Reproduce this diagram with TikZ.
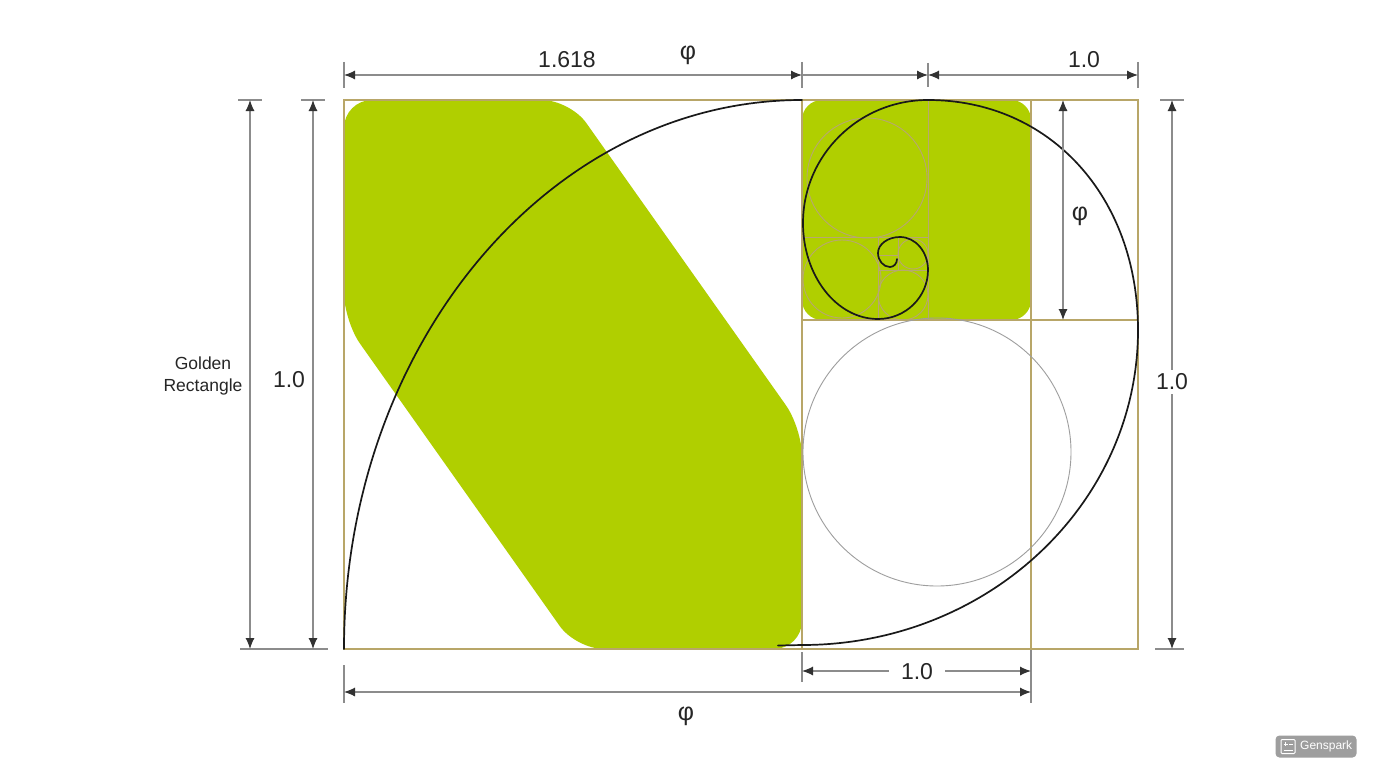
\documentclass[tikz,border=0pt]{standalone}
\usepackage{fontspec}
\setmainfont{Liberation Sans}
\usetikzlibrary{arrows.meta}
\definecolor{lime}{RGB}{176,207,0}
\definecolor{gold}{RGB}{184,166,104}
\definecolor{tan}{RGB}{183,168,112}
\definecolor{dimgray}{RGB}{140,140,140}
\definecolor{tipgray}{RGB}{50,50,50}
\tikzset{
  goldline/.style={draw=gold, line width=1.4pt},
  tanline/.style={draw=tan, line width=0.9pt},
  spiral/.style={draw=black!90, line width=1.7pt, line cap=round},
  dimline/.style={draw=dimgray, line width=1.1pt},
  tickline/.style={draw=dimgray, line width=1.1pt},
  both/.style={dimline, {Latex[length=11pt,width=9pt,color=tipgray]}-{Latex[length=11pt,width=9pt,color=tipgray]}},
  endonly/.style={dimline, -{Latex[length=11pt,width=9pt,color=tipgray]}},
  lbl/.style={font=\fontsize{23}{27}\selectfont, text=black!85, inner sep=0pt},
  philbl/.style={font=\fontsize{25}{29}\selectfont, text=black!85, inner sep=0pt},
  gaplbl/.style={lbl, fill=white, inner xsep=9pt, inner ysep=4pt}
}
\begin{document}
\begin{tikzpicture}[x=1pt,y=-1pt]
\useasboundingbox (0,0) rectangle (1376,768);
\fill[white] (0,0) rectangle (1376,768);

% key coordinates
\coordinate (TL) at (344,100);
\coordinate (TR) at (1138,100);
\coordinate (BL) at (344,649);
\coordinate (BR) at (1138,649);
\coordinate (M1T) at (802,100);
\coordinate (M1B) at (802,649);
\coordinate (M2T) at (1031,100);
\coordinate (M2B) at (1031,649);
\coordinate (H1L) at (802,320);
\coordinate (H1R) at (1138,320);

% green shapes
\fill[lime, rounded corners=28pt] (344,210) -- (344,100) -- (570,100) -- (802,428) -- (802,649) -- (576,649) -- (344,321) -- cycle;
\fill[lime, rounded corners=20pt] (802,100) rectangle (1031,320);

% structure lines
\draw[goldline] (TL) rectangle (BR);
\draw[goldline] (M1T) -- (M1B);
\draw[goldline] (M2T) -- (M2B);
\draw[goldline] (H1L) -- (H1R);

% inner subdivisions
\coordinate (V3T) at (928,100);
\coordinate (V3B) at (928,320);
\draw[tanline] (V3T) -- (V3B);
\draw[tanline] (802,237) -- (928,237);
\draw[tanline] (878,237) -- (878,320);
\draw[tanline] (878,270) -- (928,270);
\draw[tanline] (898,237) -- (898,270);
\draw[tanline] (878,255) -- (898,255);

% circles
\draw[tanline] (867,178) circle[radius=60];
\draw[tanline] (842,279) circle[radius=39];
\draw[tanline] (903,295) circle[radius=25];
\draw[tanline] (913,254) circle[radius=15];
\draw[draw=black!38, line width=0.9pt] (937,452) circle[radius=134];

% big arc
\draw[spiral] (BL) .. controls (344,345.8) and (549,100) .. (M1T);

% spiral
\draw[spiral] (778,645.5) -- (802,645)
  .. controls (987.6,645) and (1138,504) .. (1138,330)
  .. controls (1138,196.6) and (1049.8,100) .. (928,100)
  .. controls (859,100) and (803,155) .. (803,223)
  .. controls (803,276) and (836.6,319) .. (878,319)
  .. controls (905.6,319) and (928,297) .. (928,270)
  .. controls (928,251.8) and (915.5,237) .. (900,237)
  .. controls (887.8,237) and (878,244.2) .. (878,253)
  .. controls (878,260.7) and (883.4,267) .. (890,267)
  .. controls (893.9,267) and (897,263.4) .. (897,259);

% ---- top dimensions
\draw[tickline] (344,62) -- (344,88);
\draw[tickline] (802,62) -- (802,88);
\draw[tickline] (928,63) -- (928,87);
\draw[tickline] (1138,62) -- (1138,88);
\coordinate (DT1) at (344,75);
\coordinate (DT2) at (802,75);
\coordinate (DT3) at (928,75);
\coordinate (DT4) at (1138,75);
\draw[both] (DT1) -- (DT2);
\draw[endonly] (DT2) -- (DT3);
\draw[both] (DT3) -- (DT4);
\node[lbl] (l1618) at (567,60) {1.618};
\node[philbl] (phitop) at (688,55) {φ};
\node[lbl] (l10top) at (1084,60) {1.0};

% ---- left dimensions
\draw[tickline] (238,100) -- (262,100);
\draw[tickline] (301,100) -- (325,100);
\draw[tickline] (240,649) -- (328,649);
\coordinate (DL1T) at (250,100);
\coordinate (DL1B) at (250,649);
\coordinate (DL2T) at (313,100);
\coordinate (DL2B) at (313,649);
\draw[both] (DL1T) -- (DL1B);
\draw[both] (DL2T) -- (DL2B);
\node[lbl] (l10left) at (289,380) {1.0};
\node[font=\fontsize{17.5}{22}\selectfont, text=black!85, align=center, inner sep=0pt] (golden) at (203,376) {Golden\\Rectangle};

% ---- right dimensions
\coordinate (DR1T) at (1063,100);
\coordinate (DR1B) at (1063,320);
\draw[both] (DR1T) -- (DR1B);
\node[philbl] (phiright) at (1080,216) {φ};
\draw[tickline] (1160,100) -- (1184,100);
\draw[tickline] (1155,649) -- (1184,649);
\coordinate (DR2T) at (1172,100);
\coordinate (DR2B) at (1172,649);
\draw[both] (DR2T) -- (DR2B);
\node[gaplbl] (l10right) at (1172,382) {1.0};

% ---- bottom dimensions
\draw[tickline] (802,652) -- (802,682);
\draw[tickline] (1031,650) -- (1031,703);
\draw[tickline] (344,665) -- (344,703);
\coordinate (DB1L) at (802,671);
\coordinate (DB1R) at (1031,671);
\coordinate (DB2L) at (344,692);
\coordinate (DB2R) at (1031,692);
\draw[both] (DB1L) -- (DB1R);
\node[gaplbl, inner xsep=12pt] (l10bot) at (917,672) {1.0};
\draw[both] (DB2L) -- (DB2R);
\node[philbl] (phibot) at (686,716) {φ};

% ---- watermark badge
\node[fill=black!38, rounded corners=4pt, minimum width=81pt, minimum height=22pt, inner sep=0pt] (badge) at (1316,746.5) {};
\node[text=white, font=\fontsize{12}{14}\selectfont, inner sep=0pt, anchor=west] (badgetxt) at (1300,746.5) {Genspark};
\draw[white, line width=1pt, rounded corners=1pt] (1281,739.5) rectangle (1295,753.5);
\draw[white, line width=0.9pt] (1283.5,744) -- (1287.5,744) (1285.5,742) -- (1285.5,746) (1289,744) -- (1293,744) (1283.5,750) -- (1293,750);
\end{tikzpicture}
\end{document}
